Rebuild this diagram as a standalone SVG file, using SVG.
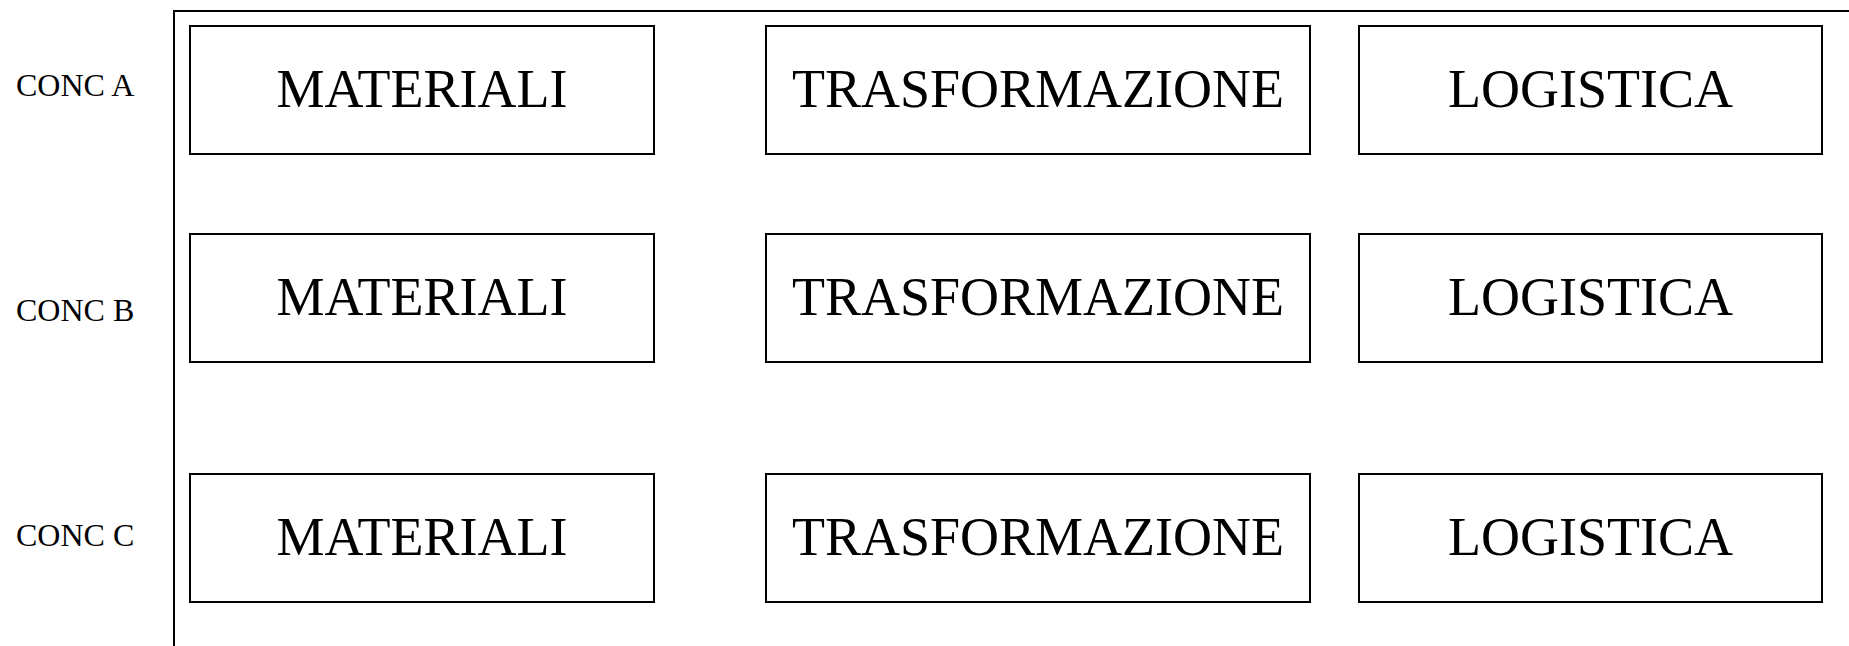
<svg xmlns="http://www.w3.org/2000/svg" width="1849" height="646" viewBox="0 0 1849 646">
  <style>
    .box { fill: #ffffff; stroke: #000000; stroke-width: 2; }
    .frame { fill: none; stroke: #000000; stroke-width: 2; }
    .lbl { font-family: "Liberation Serif", "Times New Roman", serif; font-size: 54px; fill: #000000; text-anchor: middle; }
    .row { font-family: "Liberation Serif", "Times New Roman", serif; font-size: 32px; fill: #000000; }
  </style>
  <rect width="1849" height="646" fill="#ffffff"/>

  <!-- frame: left rule and top rule -->
  <g id="connectors">
    <path class="frame" d="M174,646 V11 H1849"/>
  </g>

  <!-- row labels -->
  <g id="row-labels">
    <text id="conc-a" class="row" x="16" y="96">CONC A</text>
    <text id="conc-b" class="row" x="16" y="321">CONC B</text>
    <text id="conc-c" class="row" x="16" y="546">CONC C</text>
  </g>

  <!-- row A -->
  <g id="a-materiali"><rect class="box" x="190" y="26" width="464" height="128"/><text class="lbl" x="422" y="107">MATERIALI</text></g>
  <g id="a-trasformazione"><rect class="box" x="766" y="26" width="544" height="128"/><text class="lbl" x="1038" y="107">TRASFORMAZIONE</text></g>
  <g id="a-logistica"><rect class="box" x="1359" y="26" width="463" height="128"/><text class="lbl" x="1590.5" y="107">LOGISTICA</text></g>

  <!-- row B -->
  <g id="b-materiali"><rect class="box" x="190" y="234" width="464" height="128"/><text class="lbl" x="422" y="315">MATERIALI</text></g>
  <g id="b-trasformazione"><rect class="box" x="766" y="234" width="544" height="128"/><text class="lbl" x="1038" y="315">TRASFORMAZIONE</text></g>
  <g id="b-logistica"><rect class="box" x="1359" y="234" width="463" height="128"/><text class="lbl" x="1590.5" y="315">LOGISTICA</text></g>

  <!-- row C -->
  <g id="c-materiali"><rect class="box" x="190" y="474" width="464" height="128"/><text class="lbl" x="422" y="555">MATERIALI</text></g>
  <g id="c-trasformazione"><rect class="box" x="766" y="474" width="544" height="128"/><text class="lbl" x="1038" y="555">TRASFORMAZIONE</text></g>
  <g id="c-logistica"><rect class="box" x="1359" y="474" width="463" height="128"/><text class="lbl" x="1590.5" y="555">LOGISTICA</text></g>
</svg>
